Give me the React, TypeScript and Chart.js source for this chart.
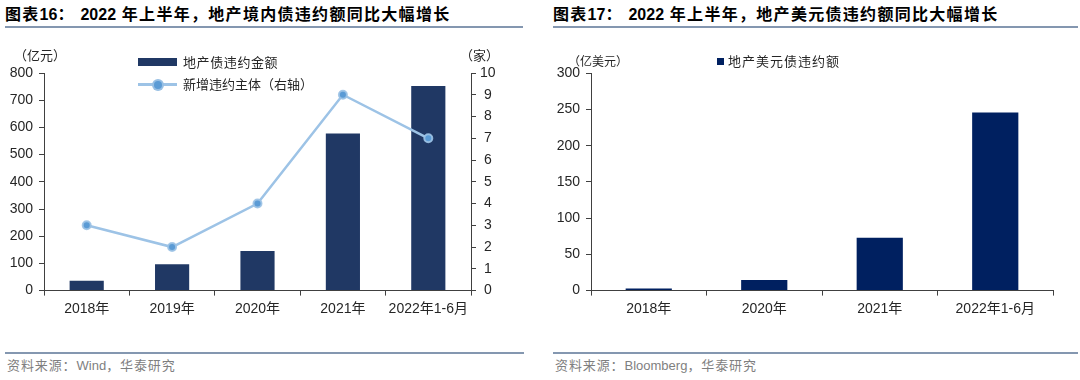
import React, { useEffect, useRef } from "react";
import { Chart, registerables } from "chart.js";

Chart.register(...registerables);

const leftCategories = ["2018年", "2019年", "2020年", "2021年", "2022年1-6月"];
const leftDefaultAmount = [36, 97, 146, 578, 752];
const leftNewIssuers = [3, 2, 4, 9, 7];
const leftAxisMax = 800;
const leftAxisStep = 100;
const rightAxisMax = 10;
const rightAxisStep = 1;

const usdCategories = ["2018年", "2020年", "2021年", "2022年1-6月"];
const usdDefaultAmount = [3, 14.5, 73, 246];
const usdAxisMax = 300;
const usdAxisStep = 50;

const FONT = '"Liberation Sans", Arial, "Noto Sans CJK SC", sans-serif';
const CJK = '"Noto Sans CJK SC", "Liberation Sans", sans-serif';
const TICK_COLOR = "#262626";
const AXIS_COLOR = "#404040";

function yAxis(max: number, step: number, position: "left" | "right", width: number, center = false) {
  return {
    type: "linear",
    position,
    min: 0,
    max,
    afterFit: (s: any) => {
      s.width = width;
    },
    border: { display: true, color: AXIS_COLOR, width: 1 },
    grid: { drawOnChartArea: false, drawTicks: true, tickLength: 5, tickColor: AXIS_COLOR },
    ticks: {
      stepSize: step,
      padding: center ? 4 : 6,
      color: TICK_COLOR,
      font: { family: FONT, size: 14 },
      crossAlign: center ? "center" : "near",
    },
  };
}

function xAxis(height: number) {
  return {
    type: "category",
    afterFit: (s: any) => {
      s.height = height;
    },
    border: { display: true, color: AXIS_COLOR, width: 1 },
    grid: { drawOnChartArea: false, drawTicks: true, tickLength: 5, tickColor: AXIS_COLOR, offset: true },
    ticks: {
      autoSkip: false,
      maxRotation: 0,
      padding: 5,
      color: TICK_COLOR,
      font: { family: FONT, size: 14 },
    },
  };
}

function LeftChart() {
  const ref = useRef<HTMLCanvasElement>(null);
  useEffect(() => {
    const chart = new Chart(ref.current!, {
      type: "bar",
      data: {
        labels: leftCategories,
        datasets: [
          {
            type: "line",
            label: "新增违约主体（右轴）",
            data: leftNewIssuers,
            yAxisID: "y1",
            order: 0,
            borderColor: "#9dc3e6",
            borderWidth: 2.5,
            pointRadius: 4,
            pointBackgroundColor: "#5b9bd5",
            pointBorderColor: "rgba(157,195,230,0.9)",
            pointBorderWidth: 2,
            tension: 0,
          } as any,
          {
            type: "bar",
            label: "地产债违约金额",
            data: leftDefaultAmount,
            yAxisID: "y",
            order: 1,
            backgroundColor: "#203864",
            categoryPercentage: 1,
            barPercentage: 0.4,
          },
        ],
      },
      options: {
        responsive: false,
        animation: false,
        layout: { padding: { top: 33, left: 0, right: 0, bottom: 0 } },
        plugins: { legend: { display: false }, tooltip: { enabled: false } },
        scales: {
          x: xAxis(49.4) as any,
          y: yAxis(leftAxisMax, leftAxisStep, "left", 44) as any,
          y1: yAxis(rightAxisMax, rightAxisStep, "right", 69, true) as any,
        },
      },
    });
    return () => chart.destroy();
  }, []);
  return <canvas ref={ref} width={540} height={300} style={{ position: "absolute", left: 0, top: 40, width: 540, height: 300 }} />;
}

function RightChart() {
  const ref = useRef<HTMLCanvasElement>(null);
  useEffect(() => {
    const chart = new Chart(ref.current!, {
      type: "bar",
      data: {
        labels: usdCategories,
        datasets: [
          {
            label: "地产美元债违约额",
            data: usdDefaultAmount,
            backgroundColor: "#002060",
            categoryPercentage: 1,
            barPercentage: 0.4,
          },
        ],
      },
      options: {
        responsive: false,
        animation: false,
        layout: { padding: { top: 33.3, left: 0, right: 27, bottom: 0 } },
        plugins: { legend: { display: false }, tooltip: { enabled: false } },
        scales: {
          x: xAxis(49.4) as any,
          y: yAxis(usdAxisMax, usdAxisStep, "left", 51) as any,
        },
      },
    });
    return () => chart.destroy();
  }, []);
  return <canvas ref={ref} width={540} height={300} style={{ position: "absolute", left: 540, top: 40, width: 540, height: 300 }} />;
}

const abs = (s: React.CSSProperties): React.CSSProperties => ({ position: "absolute", ...s });

export default function App() {
  const titleStyle: React.CSSProperties = {
    fontFamily: FONT,
    fontWeight: 700,
    fontSize: 16,
    lineHeight: "20px",
    color: "#000",
    whiteSpace: "nowrap",
    letterSpacing: 1.3,
  };
  const latin: React.CSSProperties = { letterSpacing: 0 };
  const rule = "#8497b0";
  const legendText: React.CSSProperties = {
    fontFamily: CJK,
    fontSize: 13,
    lineHeight: "16px",
    color: "#262626",
    whiteSpace: "nowrap",
  };
  const footer: React.CSSProperties = {
    fontFamily: FONT,
    fontSize: 13,
    lineHeight: "16px",
    color: "#7f7f7f",
    whiteSpace: "nowrap",
    letterSpacing: 0.9,
  };
  return (
    <div style={{ position: "absolute", left: 0, top: 0, width: 1080, height: 380, background: "#fff", overflow: "hidden" }}>
      <div style={abs({ left: 5, top: 5, ...titleStyle })}>
        图表<span style={latin}>16</span>：&nbsp;<span style={latin}>2022</span> 年上半年，地产境内债违约额同比大幅增长
      </div>
      <div style={abs({ left: 553, top: 5, ...titleStyle })}>
        图表<span style={latin}>17</span>：&nbsp;<span style={latin}>2022</span> 年上半年，地产美元债违约额同比大幅增长
      </div>
      <div style={abs({ left: 5, top: 26, width: 518, height: 2, background: rule })} />
      <div style={abs({ left: 553, top: 26, width: 525, height: 2, background: rule })} />

      <LeftChart />
      <RightChart />

      {/* left units */}
      <div style={abs({ left: 14, top: 47, ...legendText })}>（亿元）</div>
      <div style={abs({ left: 460, top: 47, ...legendText })}>（家）</div>
      {/* left legend */}
      <div style={abs({ left: 138, top: 58, width: 39, height: 8, background: "#203864" })} />
      <div style={abs({ left: 183, top: 54, letterSpacing: 0.6, ...legendText })}>地产债违约金额</div>
      <div style={abs({ left: 138, top: 83, width: 39, height: 2.5, background: "#9dc3e6" })} />
      <div
        style={abs({
          left: 152,
          top: 79,
          width: 8,
          height: 8,
          borderRadius: "50%",
          background: "#5b9bd5",
          border: "2px solid rgba(157,195,230,0.9)",
        })}
      />
      <div style={abs({ left: 183, top: 76, ...legendText })}>新增违约主体（右轴）</div>

      {/* right units and legend */}
      <div style={abs({ left: 568, top: 53, fontSize: 12, ...{ fontFamily: CJK, lineHeight: "16px", color: "#262626" } })}>（亿美元）</div>
      <div style={abs({ left: 717, top: 58, width: 7, height: 7, background: "#002060" })} />
      <div style={abs({ left: 728, top: 53, letterSpacing: 1, ...legendText })}>地产美元债违约额</div>

      {/* footers */}
      <div style={abs({ left: 5, top: 352, width: 519, height: 2, background: rule })} />
      <div style={abs({ left: 553, top: 352, width: 525, height: 2, background: rule })} />
      <div style={abs({ left: 7, top: 358, ...footer })}>
        资料来源：<span style={latin}>Wind</span>，华泰研究
      </div>
      <div style={abs({ left: 555, top: 358, ...footer })}>
        资料来源：<span style={latin}>Bloomberg</span>，华泰研究
      </div>
    </div>
  );
}
